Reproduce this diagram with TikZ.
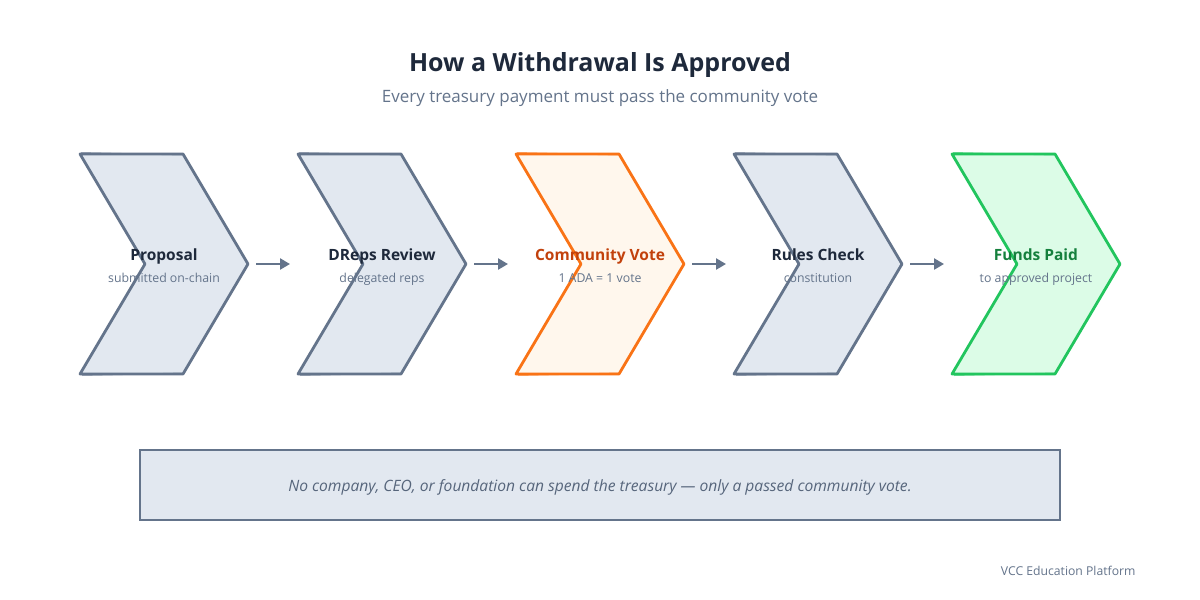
\documentclass[tikz,border=0pt]{standalone}
\usepackage{fontspec}
\setmainfont{Open Sans}
\usepackage{xcolor}
\usetikzlibrary{positioning, calc, arrows.meta}

\definecolor{inkDark}{HTML}{1E293B}
\definecolor{inkGray}{HTML}{64748B}
\definecolor{slateLine}{HTML}{64748B}
\definecolor{slateFill}{HTML}{E2E8F0}
\definecolor{voteLine}{HTML}{F97316}
\definecolor{voteFill}{HTML}{FFF7ED}
\definecolor{voteText}{HTML}{C2410C}
\definecolor{paidLine}{HTML}{22C55E}
\definecolor{paidFill}{HTML}{DCFCE7}
\definecolor{paidText}{HTML}{15803D}

\begin{document}
\begin{tikzpicture}[
  x=1pt, y=-1pt,
  font=\fontsize{12}{14}\selectfont,
  chev/.style={line width=2.8pt, line join=round},
  steptitle/.style={font=\fontsize{15.5}{17}\selectfont\bfseries, anchor=base},
  stepsub/.style={font=\fontsize{12.3}{14}\selectfont, text=inkGray, anchor=base},
  flow/.style={draw=slateLine, line width=2.8pt, -{Triangle[length=10pt, width=11pt]},
               shorten <=8pt, shorten >=8pt},
]

\useasboundingbox[fill=white] (0,0) rectangle (1200,600);

% ---- 1. heading ----
\node[font=\fontsize{25}{30}\selectfont\bfseries, text=inkDark, anchor=base] (title) at (600,71)
  {How a Withdrawal Is Approved};
\node[font=\fontsize{17}{20}\selectfont, text=inkGray, anchor=base] (subtitle) at (600,102)
  {Every treasury payment must pass the community vote};

% ---- 2. chevrons (left x, fill, line, title colour, texts) ----
\pgfmathsetmacro{\cw}{168}    % tip to back edge
\pgfmathsetmacro{\cn}{65}     % notch depth
\pgfmathsetmacro{\cs}{103}    % flat top length
\foreach \i/\xl/\fc/\lc/\tc/\ttl/\sub in {
    1/80/slateFill/slateLine/inkDark/Proposal/submitted on-chain,
    2/298/slateFill/slateLine/inkDark/DReps Review/delegated reps,
    3/516/voteFill/voteLine/voteText/Community Vote/1 ADA = 1 vote,
    4/734/slateFill/slateLine/inkDark/Rules Check/constitution,
    5/952/paidFill/paidLine/paidText/Funds Paid/to approved project}{
  \fill[\fc] (\xl,154) -- (\xl+\cs,154) -- (\xl+\cw,264) -- (\xl+\cs,374)
    -- (\xl,374) -- (\xl+\cn,264) -- cycle;
  \draw[chev, \lc] (\xl,154) -- (\xl+\cs,154) -- (\xl+\cw,264) -- (\xl+\cs,374)
    -- (\xl,374) -- (\xl+\cn,264) -- cycle;
  % slight second stroke for the hand-drawn look
  \draw[\lc, line width=1pt, opacity=0.6] (\xl+1,152.5) -- (\xl+\cs-1,155)
    (\xl+\cw-1,266) -- (\xl+\cs+1,373) (\xl+2,375.5) -- (\xl+\cs,373);
  \coordinate (back\i) at (\xl,264);
  \coordinate (tip\i) at (\xl+\cw,264);
  \node[steptitle, text=\tc] (step\i) at (\xl+84,260) {\ttl};
  \node[stepsub] (note\i) at (\xl+84,282) {\sub};
}

% ---- 3. arrows between the chevrons ----
\draw[flow] (tip1) -- (back2);
\draw[flow] (tip2) -- (back3);
\draw[flow] (tip3) -- (back4);
\draw[flow] (tip4) -- (back5);

% ---- 4. note box ----
\node[draw=slateLine, fill=slateFill, line width=2.8pt, minimum width=920pt,
      minimum height=70pt, inner sep=0pt] (rule) at (600,485) {};
\node[font=\fontsize{15.6}{18}\selectfont\itshape, text=inkGray!80!inkDark, anchor=base]
  (ruletext) at (600,491)
  {No company, CEO, or foundation can spend the treasury --- only a passed community vote.};

% ---- 5. footer ----
\node[anchor=base east, font=\fontsize{12.2}{14}\selectfont, text=inkGray] (footer) at (1139,575)
  {VCC Education Platform};

\end{tikzpicture}
\end{document}
